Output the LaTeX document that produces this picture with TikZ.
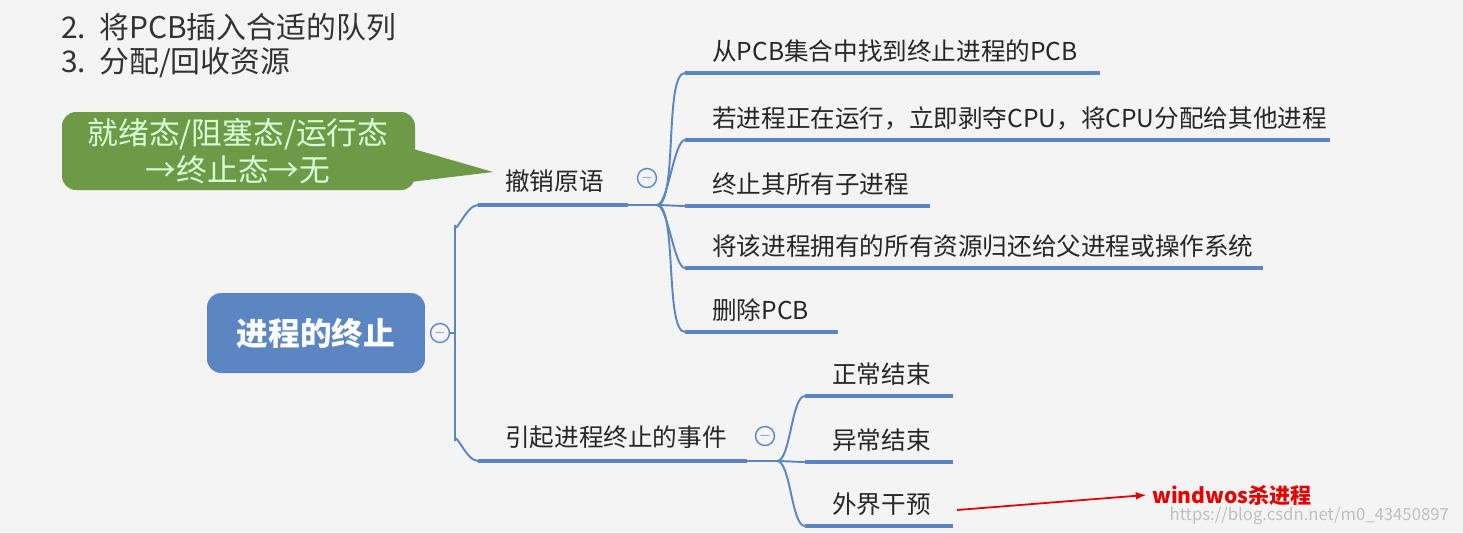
\documentclass[tikz,border=0pt]{standalone}
\usepackage{fontspec}
\setmainfont{Noto Sans CJK SC}
\usetikzlibrary{positioning}
\definecolor{bgc}{HTML}{F4F4F4}
\definecolor{mapblue}{HTML}{5B86C2}
\definecolor{mapgreen}{HTML}{6E9A47}
\tikzset{
  leaf/.style = {anchor = west, inner sep = 0pt, font = \fontsize{14}{16}\selectfont, text = black!85},
  uline/.style = {draw = mapblue, line width = 2.2pt},
  branch/.style = {draw = mapblue, line width = 1.1pt},
  fold/.style = {draw = mapblue, circle, fill = bgc, line width = 0.8pt, minimum size = 0.38cm, inner sep = 0pt,
                 font = \fontsize{8}{8}\selectfont, text = mapblue}
}
\begin{document}
\begin{tikzpicture}[x = 0.02cm, y = -0.02cm]
\useasboundingbox[fill = bgc] (0,0) rectangle (1463,532);
% list on top
\node[anchor = west, font = \fontsize{17}{20}\selectfont, text = black!80] (l2) at (55,27) {2.\ \ 将PCB插入合适的队列};
\node[anchor = west, font = \fontsize{17}{20}\selectfont, text = black!80] (l3) at (55,63) {3.\ \ 分配/回收资源};
% callout
\fill[mapgreen, rounded corners = 8pt] (62,112) rectangle (415,190);
\fill[mapgreen] (410,148) -- (493,172) -- (410,182) -- cycle;
\node[align = center, font = \fontsize{17.5}{21}\selectfont, text = white!85!green] (note) at (238,151) {就绪态/阻塞态/运行态\\→终止态→无};
% root
\node[fill = mapblue, rounded corners = 8pt, minimum width = 4.36cm, minimum height = 1.6cm, text = white,
      font = \fontsize{18}{20}\selectfont\bfseries] (root) at (316,333) {进程的终止};
\node[fold] (f0) at (440,333) {$-$};
% level one
\coordinate (a0) at (478,205); \coordinate (a1) at (628,205);
\coordinate (b0) at (478,461); \coordinate (b1) at (747,461);
\draw[branch] (f0.east) -- (455,333) -- (455,225) to[out = -90, in = 180] (a0);
\draw[branch] (455,333) -- (455,441) to[out = 90, in = 180] (b0);
\draw[uline] (a0) -- (a1);
\draw[uline] (b0) -- (b1);
\node[leaf] (cancel) at (505,181) {撤销原语};
\node[leaf] (cause) at (505,437) {引起进程终止的事件};
\node[fold] (f1) at (647,178) {$-$};
\node[fold] (f2) at (765,436) {$-$};
% children of cancel
\coordinate (hub1) at (657,205);
\draw[branch] (a1) -- (hub1);
\foreach \y/\e/\t [count = \i] in {73/1100/从PCB集合中找到终止进程的PCB,
    140/1330/{若进程正在运行，立即剥夺CPU，将CPU分配给其他进程},
    206/930/终止其所有子进程,
    268/1263/将该进程拥有的所有资源归还给父进程或操作系统,
    332/838/删除PCB} {
  \coordinate (c\i) at (685,\y);
  \draw[branch] (hub1) to[out = 0, in = 180, looseness = 0.4] (c\i);
  \draw[uline] (c\i) -- (\e,\y);
  \node[leaf] (t\i) at (712,\y-22) {\t};
}
% children of cause
\coordinate (hub2) at (777,461);
\draw[branch] (b1) -- (hub2);
\foreach \y/\t [count = \i] in {396/正常结束, 462/异常结束, 526/外界干预} {
  \coordinate (d\i) at (805,\y);
  \draw[branch] (hub2) to[out = 0, in = 180, looseness = 0.5] (d\i);
  \draw[uline] (d\i) -- (953,\y);
  \node[leaf] (u\i) at (832,\y-22) {\t};
}
% annotation
\node[anchor = west, text = red!90!black, font = \fontsize{12}{14}\selectfont\bfseries] (kill) at (1146,495) {windwos杀进程};
\draw[red!90!black, line width = 1pt, -latex] (957,510) -- (kill.west);
\node[anchor = east, text = black!25, font = \fontsize{9.5}{11}\selectfont] (mark) at (1455,516) {https://blog.csdn.net/m0\_43450897};
\end{tikzpicture}
\end{document}
